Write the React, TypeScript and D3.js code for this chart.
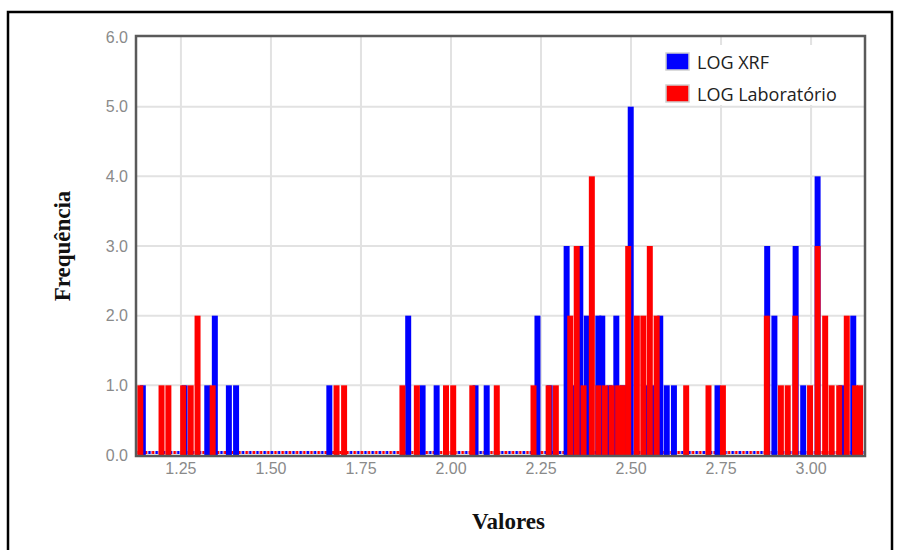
import React from 'react'
import { scaleLinear } from 'd3'

// bin left edges (Valores) and counts (Frequência)
const xrfX = [1.135, 1.251, 1.314, 1.335, 1.374, 1.394, 1.653, 1.872, 1.912, 1.951, 2.059, 2.090, 2.231, 2.265,
  2.312, 2.331, 2.350, 2.368, 2.400, 2.411, 2.431, 2.450, 2.470, 2.490, 2.528, 2.548, 2.572, 2.590, 2.610,
  2.731, 2.869, 2.889, 2.948, 2.969, 3.009, 3.075, 3.108]
const xrfN = [1, 1, 1, 2, 1, 1, 1, 2, 1, 1, 1, 1, 2, 1,
  3, 1, 3, 2, 2, 2, 1, 2, 1, 5, 1, 1, 2, 1, 1,
  1, 3, 2, 3, 1, 4, 1, 2]

const labX = [1.128, 1.187, 1.206, 1.247, 1.268, 1.287, 1.329, 1.673, 1.694, 1.856, 1.896, 1.977, 1.997, 2.050,
  2.118, 2.220, 2.262, 2.282, 2.322, 2.340, 2.359, 2.382, 2.400, 2.418, 2.437, 2.455, 2.468, 2.483, 2.507,
  2.525, 2.543, 2.562, 2.644, 2.706, 2.746, 2.868, 2.907, 2.926, 2.947, 2.988, 3.009, 3.030, 3.048, 3.069,
  3.090, 3.113, 3.127]
const labN = [1, 1, 1, 1, 1, 2, 1, 1, 1, 1, 1, 1, 1, 1,
  1, 1, 1, 1, 2, 3, 1, 4, 1, 1, 1, 1, 1, 3, 2,
  2, 3, 2, 1, 1, 1, 2, 1, 1, 2, 1, 3, 2, 1, 1,
  2, 1, 1]

const xTicks = [1.25, 1.5, 1.75, 2.0, 2.25, 2.5, 2.75, 3.0]
const yTicks = [0, 1, 2, 3, 4, 5, 6]
const seriesNames = ['LOG XRF', 'LOG Laboratório']
const colors = ['#0000ff', '#ff0000']

const App = () => {
  const width = 898
  const height = 550
  const left = 137, right = 864, top = 37, bottom = 455
  const binW = 0.0183

  const xscale = scaleLinear().domain([1.128, 3.147]).range([left, right])
  const yscale = scaleLinear().domain([0, 6]).range([bottom, top])
  const bw = xscale(1.128 + binW) - xscale(1.128)

  // bars get a faint light edge, like the anti-aliased seams in the original
  const bars = (xs: number[], ns: number[], color: string, name: string) =>
    xs.map((x, i) => (
      <rect
        key={name + i}
        x={xscale(x) + 0.3}
        y={yscale(ns[i])}
        width={bw - 0.6}
        height={yscale(0) - yscale(ns[i])}
        fill={color}
      />
    ))

  return (
    <svg width={width} height={height} viewBox={`0 0 ${width} ${height}`}
      style={{ position: 'absolute', left: 0, top: 0, display: 'block', background: '#fff' }}>
      <defs>
        <pattern id="zeros" patternUnits="userSpaceOnUse" x={left} y={0} width={7.2} height={height}>
          <rect x={0.4} y={bottom - 4} width={2.6} height={3} fill={colors[1]} />
          <rect x={4.0} y={bottom - 4} width={2.6} height={3} fill={colors[0]} />
        </pattern>
      </defs>

      <rect x={8} y={12} width={884} height={548} fill="none" stroke="#000" strokeWidth={2.5} />

      {yTicks.filter(t => t > 0 && t < 6).map(t => (
        <line key={'gy' + t} x1={left} x2={right} y1={yscale(t)} y2={yscale(t)} stroke="#e2e2e2" strokeWidth={2} />
      ))}
      {xTicks.map(t => (
        <line key={'gx' + t} x1={xscale(t)} x2={xscale(t)} y1={top} y2={bottom} stroke="#e2e2e2" strokeWidth={2} />
      ))}

      <rect x={660} y={45} width={198} height={60} fill="#fff" />

      <rect x={left} y={bottom - 4} width={right - left} height={4} fill="url(#zeros)" />
      {bars(xrfX, xrfN, colors[0], 'xrf')}
      {bars(labX, labN, colors[1], 'lab')}

      <rect x={left - 1} y={top - 1} width={right - left + 2} height={bottom - top + 2}
        fill="none" stroke="#5a5a5a" strokeWidth={2.5} />

      {yTicks.map(t => (
        <text key={'ty' + t} x={left - 9} y={yscale(t)} textAnchor="end" dominantBaseline="central"
          fontFamily="Liberation Sans, Arial, sans-serif" fontSize={16} fill="#8a8a8a">
          {t.toFixed(1)}
        </text>
      ))}
      {xTicks.map(t => (
        <text key={'tx' + t} x={xscale(t)} y={bottom + 13} textAnchor="middle" dominantBaseline="central"
          fontFamily="Liberation Sans, Arial, sans-serif" fontSize={16} fill="#8a8a8a">
          {t.toFixed(2)}
        </text>
      ))}

      {seriesNames.map((s, i) => (
        <g key={s} transform={`translate(666, ${53 + i * 32})`}>
          <rect x={0} y={0} width={23} height={17} fill={colors[i]} stroke="#d0d0d0" strokeWidth={1.5} />
          <text x={31} y={8.5} dominantBaseline="central" fontFamily="Open Sans, sans-serif"
            fontSize={18} fill="#222">
            {s}
          </text>
        </g>
      ))}

      <text x={(left + right) / 2 + 8} y={521} textAnchor="middle" dominantBaseline="central"
        fontFamily="Liberation Serif, Times New Roman, serif" fontWeight="bold" fontSize={23} fill="#111">
        Valores
      </text>
      <text transform={`translate(62, ${(top + bottom) / 2}) rotate(-90)`} textAnchor="middle"
        dominantBaseline="central" fontFamily="Liberation Serif, Times New Roman, serif"
        fontWeight="bold" fontSize={23} fill="#111">
        Frequência
      </text>
    </svg>
  )
}

export default App
